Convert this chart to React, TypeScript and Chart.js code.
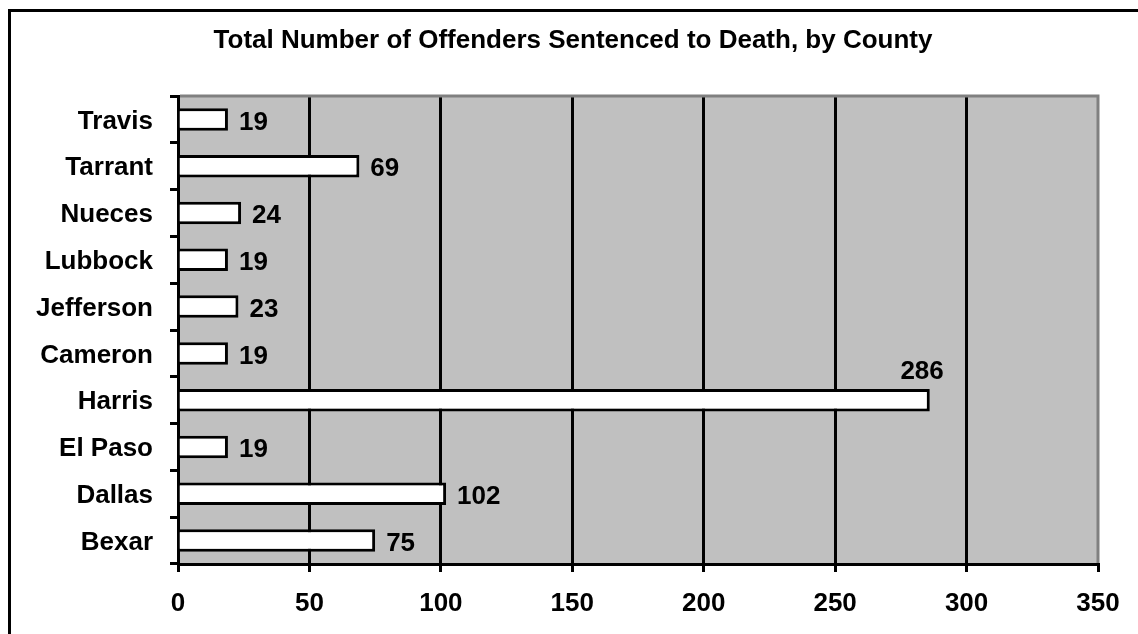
import React, { useEffect, useRef } from "react";
import { Chart, registerables } from "chart.js";

Chart.register(...registerables);

const titleText = "Total Number of Offenders Sentenced to Death, by County";
const categories = ["Travis", "Tarrant", "Nueces", "Lubbock", "Jefferson", "Cameron", "Harris", "El Paso", "Dallas", "Bexar"];
const offenders = [19, 69, 24, 19, 23, 19, 286, 19, 102, 75];
const xTickValues = [0, 50, 100, 150, 200, 250, 300, 350];

const FONT_FAMILY = '"Liberation Sans", Arial, Helvetica, sans-serif';
const FONT_SIZE = 26;

const framePlugin = {
  id: "frame",
  beforeDraw(chart: any) {
    const { ctx, chartArea, width, height } = chart;
    ctx.save();
    ctx.fillStyle = "#c0c0c0";
    ctx.fillRect(chartArea.left, chartArea.top, chartArea.right - chartArea.left, chartArea.bottom - chartArea.top);
    ctx.fillStyle = "#000";
    ctx.fillRect(0, 1, width, 3);
    ctx.fillRect(0, 1, 3, height);
    ctx.restore();
  },
  afterDatasetsDraw(chart: any) {
    const { ctx, chartArea } = chart;
    ctx.save();
    ctx.strokeStyle = "#808080";
    ctx.lineWidth = 3;
    ctx.beginPath();
    ctx.moveTo(chartArea.left + 2, chartArea.top);
    ctx.lineTo(chartArea.right, chartArea.top);
    ctx.lineTo(chartArea.right, chartArea.bottom - 1);
    ctx.stroke();
    ctx.restore();
  },
};

const valueLabelPlugin = {
  id: "valueLabels",
  afterDatasetsDraw(chart: any) {
    const { ctx } = chart;
    const meta = chart.getDatasetMeta(0);
    const values = chart.data.datasets[0].data as number[];
    const maxV = Math.max(...values);
    ctx.save();
    ctx.font = `bold ${FONT_SIZE}px ${FONT_FAMILY}`;
    ctx.fillStyle = "#000";
    ctx.textBaseline = "middle";
    meta.data.forEach((bar: any, i: number) => {
      const v = values[i];
      if (v === maxV) {
        ctx.textAlign = "right";
        ctx.fillText(String(v), bar.x + 14, bar.y - 28);
      } else {
        ctx.textAlign = "left";
        ctx.fillText(String(v), bar.x + 11, bar.y + 3);
      }
    });
    ctx.restore();
  },
};

export default function App() {
  const canvasRef = useRef<HTMLCanvasElement | null>(null);

  useEffect(() => {
    if (!canvasRef.current) return;
    Chart.defaults.font.family = FONT_FAMILY;
    Chart.defaults.color = "#000";
    const chart = new Chart(canvasRef.current, {
      type: "bar",
      data: {
        labels: categories,
        datasets: [
          {
            data: offenders,
            backgroundColor: "#ffffff",
            borderColor: "#000000",
            borderWidth: 3,
            borderSkipped: "start",
            barPercentage: 0.48,
            categoryPercentage: 1,
          },
        ],
      },
      options: {
        indexAxis: "y",
        animation: false,
        responsive: true,
        maintainAspectRatio: false,
        layout: { padding: 0 },
        plugins: {
          legend: { display: false },
          tooltip: { enabled: false },
          title: {
            display: true,
            text: titleText,
            color: "#000",
            font: { size: FONT_SIZE, weight: "bold", family: FONT_FAMILY, lineHeight: 1.2 },
            padding: { top: 17.5, bottom: 39.3 },
          },
        },
        scales: {
          x: {
            type: "linear",
            min: 0,
            max: 350,
            afterBuildTicks: (scale: any) => {
              scale.ticks = xTickValues.map((v) => ({ value: v }));
            },
            afterFit: (scale: any) => {
              scale.height = 70;
              scale.paddingLeft = 0;
              scale.paddingRight = 40;
            },
            grid: {
              color: (c: any) => (c.tick && c.tick.value === 350 ? "rgba(0,0,0,0)" : "#000"),
              lineWidth: 3,
              tickColor: "#000",
              tickWidth: 3,
              tickLength: 8,
              drawTicks: true,
            },
            border: { display: true, color: "#000", width: 3 },
            ticks: {
              padding: 16.4,
              color: "#000",
              font: { size: FONT_SIZE, weight: "bold", family: FONT_FAMILY },
              maxRotation: 0,
            },
          },
          y: {
            type: "category",
            afterFit: (scale: any) => {
              scale.width = 170;
            },
            grid: {
              drawOnChartArea: false,
              drawTicks: true,
              offset: true,
              tickLength: 8,
              tickColor: "#000",
              tickWidth: 3,
              color: "#000",
              lineWidth: 3,
            },
            border: { display: true, color: "#000", width: 3 },
            ticks: {
              padding: 17,
              labelOffset: 2,
              color: "#000",
              font: { size: FONT_SIZE, weight: "bold", family: FONT_FAMILY },
            },
          },
        },
      } as any,
      plugins: [framePlugin, valueLabelPlugin],
    });
    return () => chart.destroy();
  }, []);

  return (
    <div style={{ position: "fixed", left: 8, top: 8, width: 1130, height: 626, background: "#fff", overflow: "hidden" }}>
      <canvas ref={canvasRef} />
    </div>
  );
}
